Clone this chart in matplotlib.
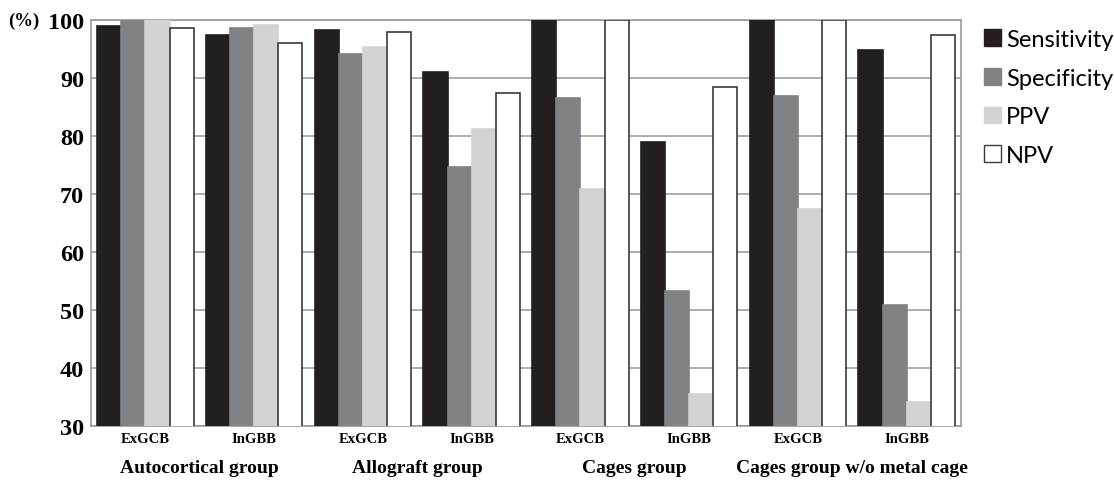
import matplotlib.pyplot as plt
from matplotlib.patches import Patch
from matplotlib import transforms
import numpy as np

groups = ['Autocortical group', 'Allograft group', 'Cages group', 'Cages group w/o metal cage']
methods = ['ExGCB', 'InGBB'] * 4
series = ['Sensitivity', 'Specificity', 'PPV', 'NPV']

sensitivity = [99.0, 97.5, 98.3, 91.0, 100.0, 78.9, 100.0, 94.9]
specificity = [100.0, 98.6, 94.1, 74.6, 86.5, 53.2, 86.9, 50.9]
ppv = [100.0, 99.1, 95.3, 81.2, 70.8, 35.5, 67.5, 34.2]
npv = [98.6, 96.0, 98.0, 87.4, 100.0, 88.5, 100.0, 97.5]

values = [sensitivity, specificity, ppv, npv]
fills = ['#231f20', '#808285', '#d1d3d4', 'white']
edges = ['#231f20', '#808285', '#d1d3d4', '#3a3a3a']

fig = plt.figure(figsize=(11.14, 4.81), dpi=100)
ax = fig.add_axes([0.0817, 0.1123, 0.7810, 0.8440])

x = np.arange(len(methods))
w = 0.222
for i, vals in enumerate(values):
    ax.bar(x + (i - 1.5) * w, vals, w, color=fills[i], edgecolor=edges[i],
           linewidth=1.2, zorder=3, label=series[i])

ax.set_ylim(30, 100)
ax.set_xlim(-0.5, len(methods) - 0.5)
ax.set_yticks(np.arange(30, 101, 10))
ax.yaxis.grid(True, color='#a0a0a0', linewidth=1.2, zorder=0)
for s in ax.spines.values():
    s.set_color('#9a9a9a')
    s.set_linewidth(1.2)
ax.tick_params(length=0)

serif = 'Liberation Serif'
ax.set_yticklabels([str(v) for v in range(30, 101, 10)], fontfamily=serif,
                   fontweight='bold', fontsize=17.5)
ax.tick_params(axis='y', pad=5)
ax.set_xticks(x)
ax.set_xticklabels(methods, fontfamily=serif, fontweight='bold', fontsize=10.5)
ax.tick_params(axis='x', pad=4)

trans = transforms.blended_transform_factory(ax.transData, fig.transFigure)
for k, g in enumerate(groups):
    ax.text(2 * k + 0.5, 0.027, g, transform=trans, ha='center', va='center',
            fontfamily=serif, fontweight='bold', fontsize=14)

fig.text(0.007, 0.955, '(%)', fontfamily=serif, fontweight='bold', fontsize=13.5,
         ha='left', va='center')

handles = [Patch(facecolor=fills[i], edgecolor=edges[i], linewidth=1.0)
           for i in range(4)]
fig.legend(handles, series, loc='upper left', bbox_to_anchor=(0.864, 0.982),
           frameon=False, handlelength=0.72, handleheight=0.72, handletextpad=0.22,
           labelspacing=0.75, prop={'family': 'Lato', 'size': 17})

fig.savefig('out.png', dpi=100)
